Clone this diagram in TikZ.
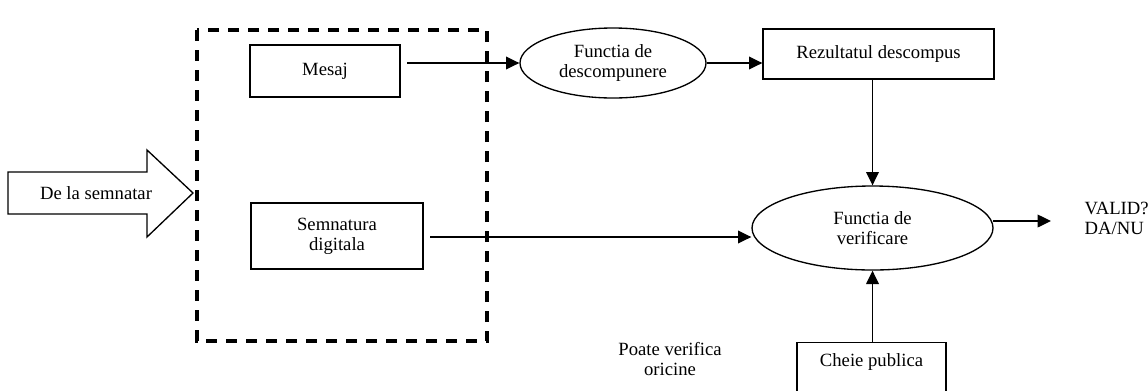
\documentclass[tikz,border=0pt]{standalone}
\usepackage{fontspec}
\setmainfont{Liberation Serif}
\usetikzlibrary{arrows.meta,shapes.geometric}

\tikzset{
  box/.style={draw, line width=1pt, rectangle, align=center, inner sep=2pt},
  oval/.style={draw, line width=1pt, ellipse, align=center, inner sep=0pt},
  flow/.style={line width=1pt, -{Triangle[length=10pt,width=9.5pt]}},
  group/.style={line width=3pt, dash pattern={on 8.5pt off 6.5pt}},
}

\begin{document}
\begin{tikzpicture}[x=0.75pt,y=0.75pt,yscale=-1,xscale=1,
  every node/.style={font=\fontsize{14}{15}\selectfont}]
%set diagram size: 1148 x 390
\useasboundingbox (0,0) rectangle (1148,390);

%Shape: Block arrow [id:from_sender]
\draw [line width=1pt] (8,172) -- (147,172) -- (147,150) -- (193,193) -- (147,237) -- (147,214) -- (8,214) -- cycle ;
% Text Node
\node (sender) at (96,193) {De la semnatar};

%Shape: Dashed group [id:signed_doc]
\draw [group] (197,30) rectangle (487,341) ;

%Shape: Rectangle [id:msg]
\node [box, minimum width=112.5pt, minimum height=39pt] (msg) at (325,71) {Mesaj};
%Shape: Rectangle [id:sig]
\node [box, minimum width=129pt, minimum height=49.5pt] (sig) at (337,236) {Semnatura\\digitala};
%Shape: Ellipse [id:hashfn]
\node [oval, minimum width=139.5pt, minimum height=52.5pt] (hashfn) at (613,63) {Functia de\\descompunere};
%Shape: Rectangle [id:digest]
\node [box, minimum width=173.25pt, minimum height=37.5pt] (digest) at (878.5,54) {Rezultatul descompus};
%Shape: Ellipse [id:verify]
\node [oval, minimum width=180.75pt, minimum height=63pt] (verify) at (872.5,228) {Functia de\\verificare};
%Shape: Rectangle [id:pubkey]
\node [box, anchor=north, minimum width=111.75pt, inner ysep=8pt, text depth=26pt] (pubkey) at (871.5,342) {Cheie publica};

% Text Node
\node [align=center] (anyone) at (670,359) {Poate verifica\\oricine};
% Text Node
\node [anchor=west, align=left] (result) at (1080,218) {VALID?\\DA/NU};

%Straight Lines [id:arrows]
\coordinate (msgout) at (407,63);
\coordinate (sigout) at (430,237);
\coordinate (verout) at (993,221);
\coordinate (resin) at (1051,221);
\draw [flow] (msgout) -- (hashfn.west);
\draw [flow] (hashfn.east) -- (hashfn.east -| digest.west);
\draw [flow] (verify.north |- digest.south) -- (verify.north);
\draw [flow] (sigout) -- (sigout -| verify.west);
\draw [flow] (pubkey.north -| verify.south) -- (verify.south);
\draw [flow] (verout) -- (resin);

\end{tikzpicture}
\end{document}
